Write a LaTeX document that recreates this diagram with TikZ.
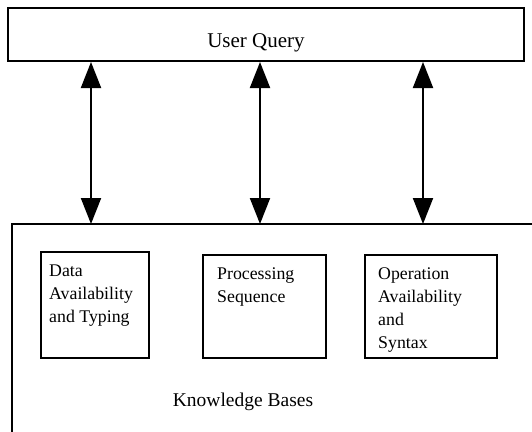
\documentclass[tikz,border=0pt]{standalone}
\usepackage{fontspec}
\setmainfont{Liberation Serif}
\usetikzlibrary{arrows.meta}
\begin{document}
\begin{tikzpicture}[x=1pt,y=-1pt,
  frame/.style={draw=black, line width=2pt, inner sep=0pt},
  kbox/.style={frame, anchor=north west},
  ktext/.style={anchor=north west, inner sep=0pt, align=left,
    font=\fontsize{17.8}{23}\selectfont},
  label/.style={inner sep=0pt, anchor=base},
  link/.style={line width=2pt, {Triangle[width=20pt,length=26pt]}-{Triangle[width=20pt,length=26pt]}}]
\useasboundingbox (0,0) rectangle (532,431);
% User query box
\node[frame, minimum width=516pt, minimum height=53pt] (uq) at (266,34.5) {};
\node[label, font=\fontsize{21}{25}\selectfont] (uqt) at (256,47) {User Query};
% Knowledge bases region (open frame)
\node[inner sep=0pt, minimum width=522pt, minimum height=210pt, anchor=north west] (kb) at (11.5,224) {};
\draw[line width=2pt] (kb.south west) -- (kb.north west) -- (kb.north east);
\node[label, font=\fontsize{19.5}{24}\selectfont] (kbt) at (243,406) {Knowledge Bases};
% inner boxes
\node[kbox, minimum width=108pt, minimum height=106pt] (b1) at (40,251) {};
\node[kbox, minimum width=123pt, minimum height=103pt] (b2) at (202,254) {};
\node[kbox, minimum width=132pt, minimum height=103pt] (b3) at (364,254) {};
\node[ktext] (t1) at ([shift={(9,14)}]b1.north west) {Data\\Availability\\and Typing};
\node[ktext] (t2) at ([shift={(15,14)}]b2.north west) {Processing\\Sequence};
\node[ktext] (t3) at ([shift={(14,14)}]b3.north west) {Operation\\Availability\\and\\Syntax};
% arrows
\coordinate (a1) at (91,0);
\coordinate (a2) at (260,0);
\coordinate (a3) at (423,0);
\draw[link] (uq.south -| a1) -- (kb.north -| a1);
\draw[link] (uq.south -| a2) -- (kb.north -| a2);
\draw[link] (uq.south -| a3) -- (kb.north -| a3);
\end{tikzpicture}
\end{document}
